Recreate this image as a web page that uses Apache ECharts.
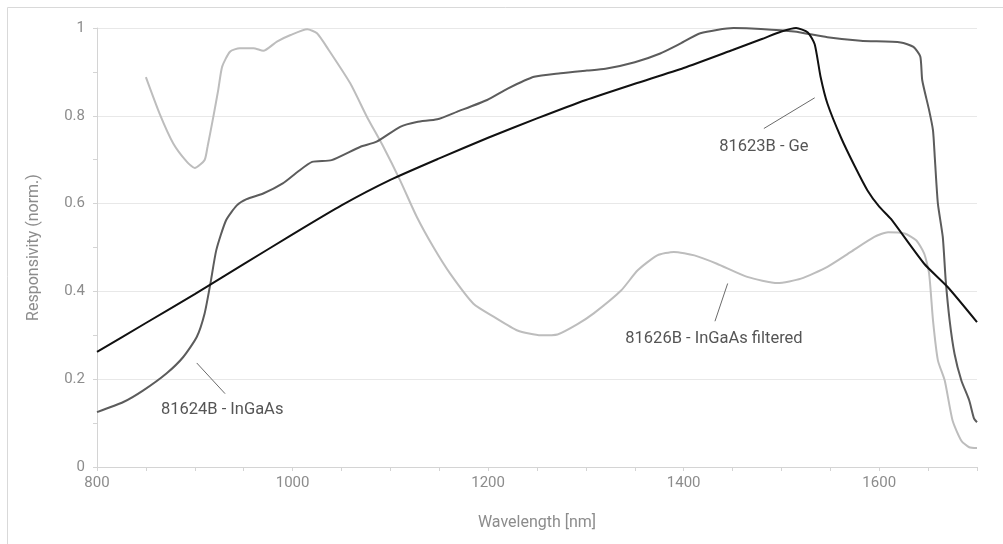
<!DOCTYPE html>
<html style="height: 100%">
<head>
    <meta charset="utf-8">
    <title>Responsivity</title>
</head>
<body style="height: 100%; margin: 0; background: #fff">
<div id="container" style="width: 1003px; height: 544px"></div>
<script type="text/javascript" src="https://cdn.jsdelivr.net/npm/echarts@6/dist/echarts.min.js"></script>
<script type="text/javascript">
// 81623B - Ge
var geWl   = [800, 850, 900, 950, 1000, 1050, 1100, 1150, 1200, 1250, 1300, 1350, 1400, 1450, 1480, 1500, 1515, 1527, 1534, 1540, 1547, 1561, 1575, 1588, 1600, 1612, 1646, 1670, 1700];
var geResp = [0.262, 0.328, 0.394, 0.462, 0.530, 0.596, 0.654, 0.703, 0.750, 0.794, 0.836, 0.873, 0.909, 0.950, 0.975, 0.992, 1.0, 0.990, 0.963, 0.889, 0.828, 0.750, 0.685, 0.630, 0.593, 0.565, 0.463, 0.410, 0.330];

// 81624B - InGaAs
var ingaasWl   = [800, 827, 847, 871, 888, 902, 910, 916, 922, 932, 943, 953, 970, 990, 1005, 1020, 1040, 1069, 1086, 1110, 1127, 1148, 1168, 1199, 1220, 1247, 1274, 1301, 1320, 1350, 1376, 1397, 1417, 1451, 1479, 1513, 1547, 1581, 1622, 1635, 1642, 1644, 1651, 1655, 1657, 1660, 1665, 1668, 1672, 1677, 1684, 1692, 1697, 1700];
var ingaasResp = [0.125, 0.148, 0.174, 0.213, 0.250, 0.296, 0.349, 0.418, 0.494, 0.562, 0.596, 0.610, 0.623, 0.646, 0.672, 0.695, 0.699, 0.729, 0.741, 0.775, 0.786, 0.792, 0.809, 0.836, 0.862, 0.889, 0.897, 0.903, 0.907, 0.922, 0.942, 0.965, 0.988, 1.0, 0.998, 0.992, 0.979, 0.971, 0.967, 0.957, 0.935, 0.881, 0.813, 0.767, 0.699, 0.600, 0.524, 0.425, 0.334, 0.258, 0.197, 0.152, 0.110, 0.102];

// 81626B - InGaAs filtered
var filtWl   = [850, 864, 878, 892, 900, 910, 913, 919, 924, 928, 936, 946, 960, 970, 984, 998, 1015, 1025, 1037, 1059, 1076, 1093, 1110, 1127, 1144, 1161, 1185, 1206, 1230, 1254, 1271, 1291, 1308, 1336, 1353, 1373, 1390, 1411, 1434, 1465, 1496, 1520, 1547, 1571, 1595, 1609, 1626, 1638, 1646, 1651, 1655, 1660, 1667, 1675, 1684, 1692, 1700];
var filtResp = [0.888, 0.805, 0.737, 0.695, 0.681, 0.699, 0.729, 0.798, 0.859, 0.912, 0.946, 0.954, 0.954, 0.948, 0.969, 0.984, 0.997, 0.988, 0.950, 0.874, 0.798, 0.729, 0.653, 0.570, 0.501, 0.441, 0.372, 0.342, 0.311, 0.300, 0.302, 0.325, 0.350, 0.402, 0.448, 0.482, 0.490, 0.482, 0.463, 0.433, 0.419, 0.429, 0.456, 0.490, 0.524, 0.535, 0.532, 0.516, 0.486, 0.441, 0.334, 0.243, 0.197, 0.106, 0.060, 0.045, 0.043];

// labels: text anchor and leader line ends, in data units
var geNote     = { text: '81623B - Ge', at: [1482, 0.729], line: [[1482, 0.771], [1534, 0.841]] };
var ingaasNote = { text: '81624B - InGaAs', at: [928, 0.129], line: [[902, 0.237], [931, 0.167]] };
var filtNote   = { text: '81626B - InGaAs filtered', at: [1431, 0.292], line: [[1432, 0.332], [1445, 0.418]] };

function zip(xs, ys) {
    var out = [];
    for (var i = 0; i < xs.length; i++) out.push([xs[i], ys[i]]);
    return out;
}

function note(n) {
    return {
        markLine: {
            silent: true,
            symbol: 'none',
            animation: false,
            label: { show: false },
            lineStyle: { color: '#6a6a6a', width: 1, type: 'solid' },
            data: [[{ coord: n.line[0] }, { coord: n.line[1] }]]
        },
        markPoint: {
            silent: true,
            symbol: 'circle',
            symbolSize: 0,
            animation: false,
            label: {
                show: true,
                formatter: n.text,
                color: '#555',
                fontSize: 16.5,
                fontFamily: 'Roboto'
            },
            data: [{ coord: n.at }]
        }
    };
}

function line(name, data, color, n) {
    var s = {
        name: name,
        type: 'line',
        data: data,
        showSymbol: false,
        smooth: 0.2,
        lineStyle: { color: color, width: 2 },
        itemStyle: { color: color },
        z: 3
    };
    var m = note(n);
    s.markLine = m.markLine;
    s.markPoint = m.markPoint;
    return s;
}

var myChart = echarts.init(document.getElementById('container'));

var option = {
    animation: false,
    textStyle: { fontFamily: 'Roboto' },
    graphic: [{
        type: 'rect',
        silent: true,
        shape: { x: 7.5, y: 7.5, width: 1100, height: 600 },
        style: { fill: 'none', stroke: '#d9d9d9', lineWidth: 1 }
    }],
    grid: { left: 97, right: 26, top: 28, bottom: 77 },
    xAxis: {
        type: 'value',
        min: 800,
        max: 1700,
        interval: 50,
        name: 'Wavelength [nm]',
        nameLocation: 'middle',
        nameGap: 48,
        nameTextStyle: { color: '#8c8c8c', fontSize: 16 },
        axisLine: { show: true, lineStyle: { color: '#d4d4d4' } },
        axisTick: { show: true, length: 4, lineStyle: { color: '#d4d4d4' } },
        axisLabel: {
            color: '#8c8c8c',
            fontSize: 15,
            margin: 9,
            formatter: function (v) { return v % 200 === 0 ? String(v) : ''; }
        },
        splitLine: { show: false }
    },
    yAxis: {
        type: 'value',
        min: 0,
        max: 1,
        interval: 0.2,
        name: 'Responsivity (norm.)',
        nameLocation: 'middle',
        nameGap: 55,
        nameTextStyle: { color: '#8c8c8c', fontSize: 16 },
        axisLine: { show: true, lineStyle: { color: '#d4d4d4' } },
        axisTick: { show: true, length: 4, lineStyle: { color: '#d4d4d4' } },
        minorTick: { show: true, splitNumber: 2, length: 4, lineStyle: { color: '#d4d4d4' } },
        axisLabel: { color: '#8c8c8c', fontSize: 15, margin: 12 },
        splitLine: { show: true, lineStyle: { color: '#e8e8e8' } }
    },
    series: [
        line('81626B - InGaAs filtered', zip(filtWl, filtResp), '#bdbdbd', filtNote),
        line('81624B - InGaAs', zip(ingaasWl, ingaasResp), '#5c5c5c', ingaasNote),
        line('81623B - Ge', zip(geWl, geResp), '#111111', geNote)
    ]
};

myChart.setOption(option);
</script>
</body>
</html>
